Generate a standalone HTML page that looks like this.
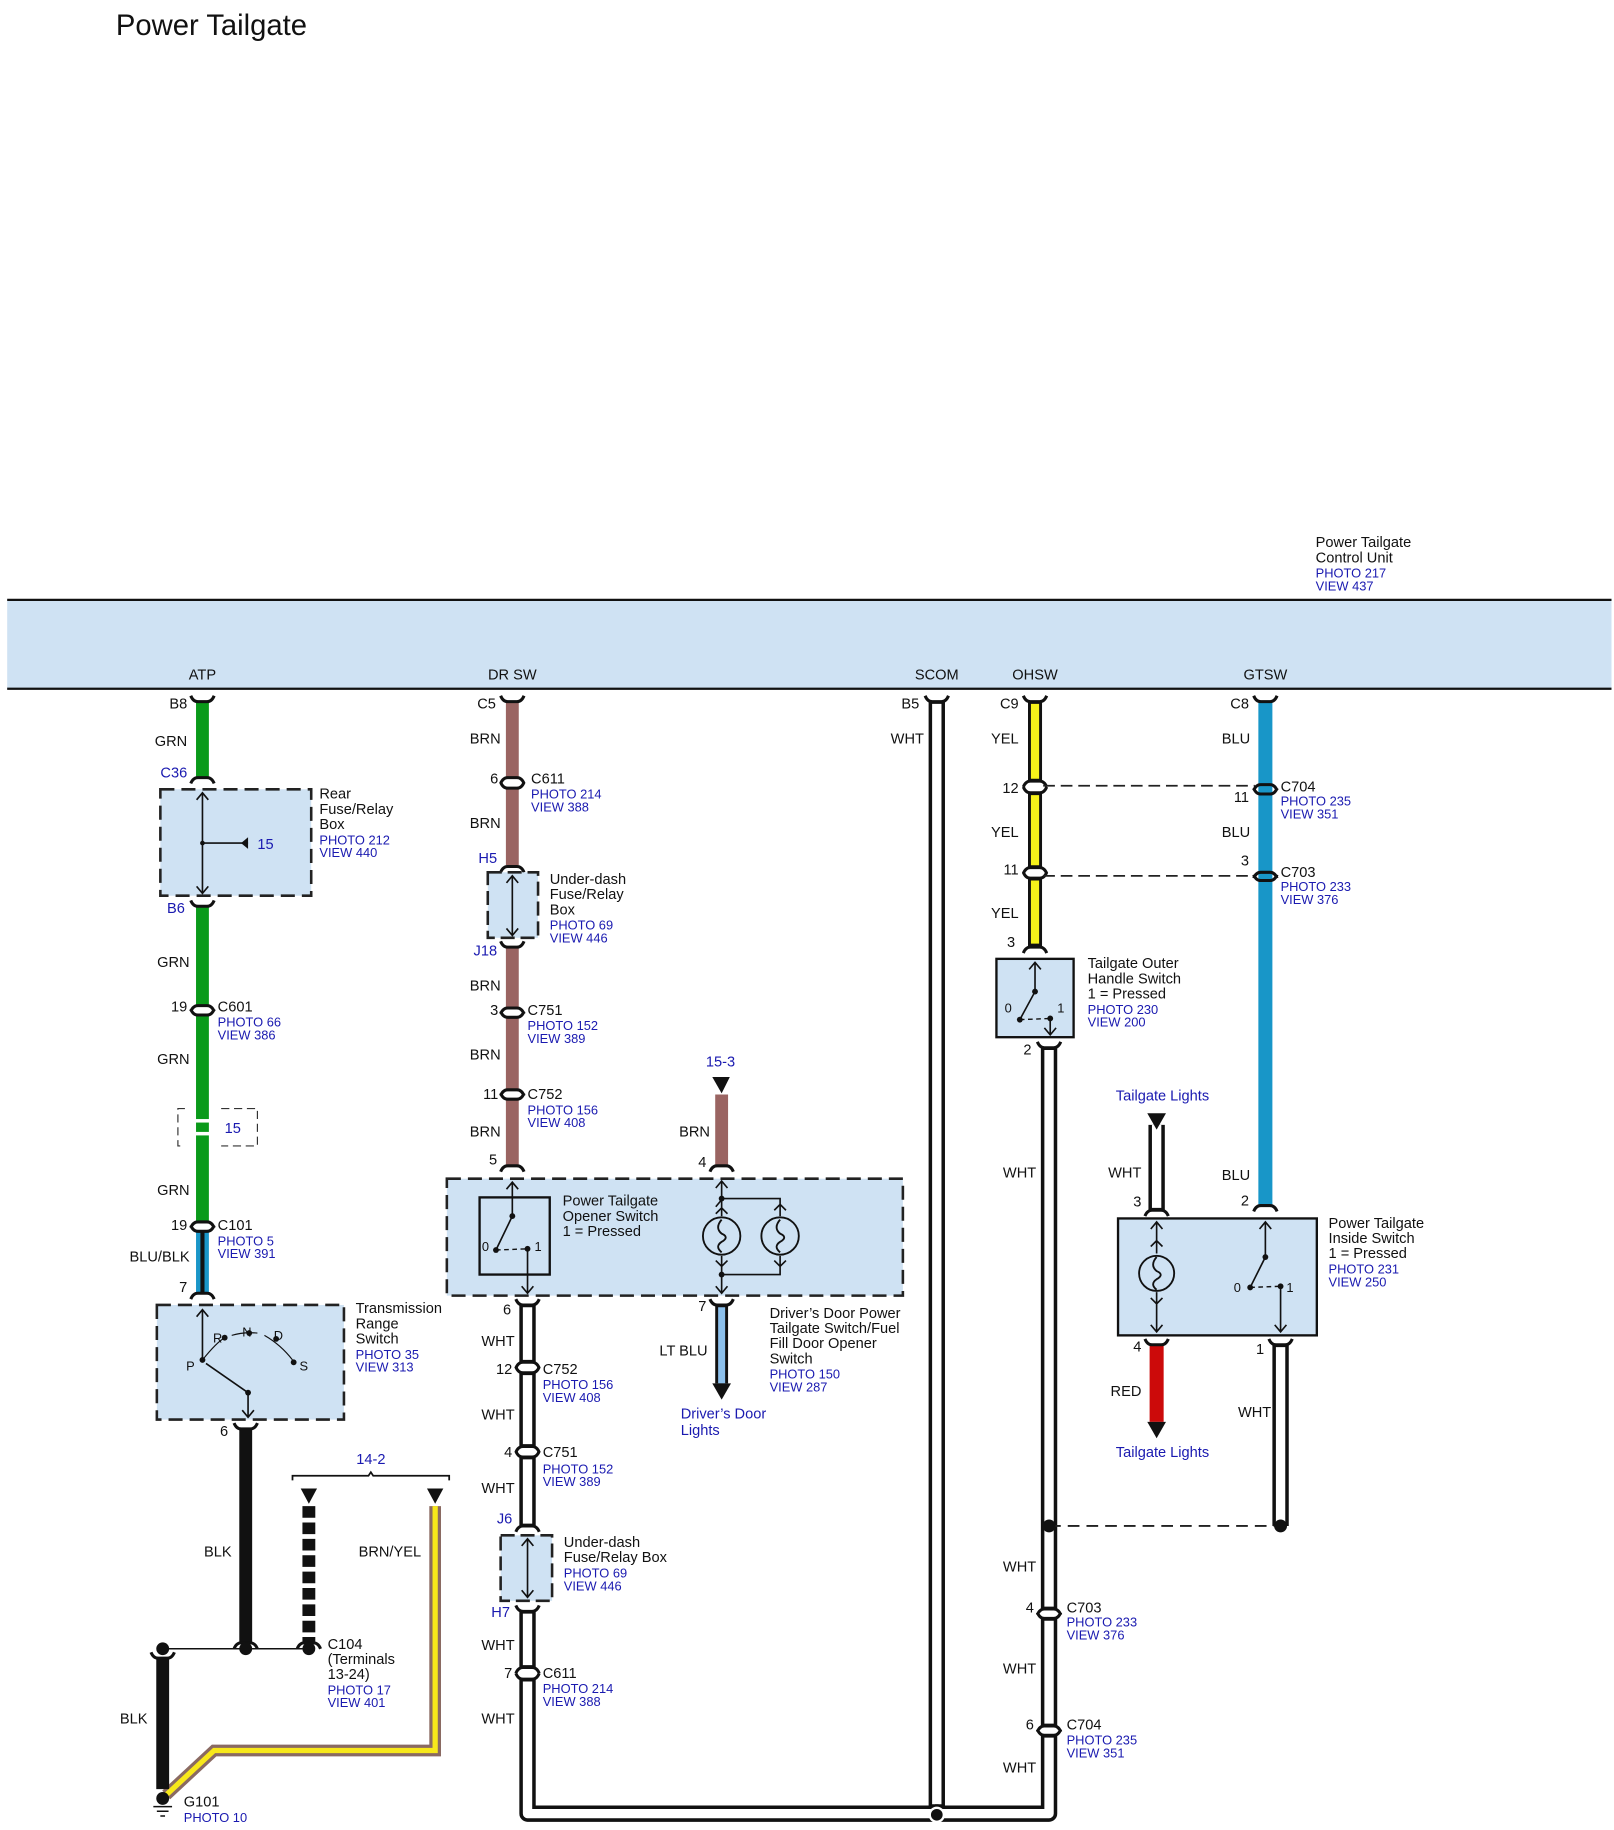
<!DOCTYPE html>
<html><head><meta charset="utf-8"><style>
html,body{margin:0;padding:0;background:#fff}
svg{display:block}
text{font-family:"Liberation Sans",sans-serif;font-size:12.5px;fill:#111}
.b{fill:#1a1ab0}
.s{font-size:11px}
</style></head><body>
<svg width="1614" height="1830" viewBox="0 0 1380 1565" xmlns="http://www.w3.org/2000/svg">
<defs>
<path id="cu" d="M-10,-5 Q-8,0 -4,0 L4,0 Q8,0 10,-5" fill="none" stroke="#111" stroke-width="2.6"/>
<path id="cd" d="M-10,5 Q-8,0 -4,0 L4,0 Q8,0 10,5" fill="none" stroke="#111" stroke-width="2.6"/>
</defs>
<text x="99" y="30" style="font-size:25px">Power Tailgate</text>

<!-- control unit band -->
<rect x="6" y="513" width="1372" height="76" fill="#cfe2f3"/>
<line x1="6" y1="513" x2="1378" y2="513" stroke="#111" stroke-width="2"/>
<line x1="6" y1="589" x2="1378" y2="589" stroke="#111" stroke-width="2"/>
<text x="1125" y="468">Power Tailgate</text><text x="1125" y="481">Control Unit</text>
<text x="1125" y="494" class="b s">PHOTO 217</text><text x="1125" y="505" class="b s">VIEW 437</text>
<g class="s" text-anchor="middle" style="font-size:11px">
<text x="173" y="581">ATP</text><text x="438" y="581">DR SW</text><text x="801" y="581">SCOM</text><text x="885" y="581">OHSW</text><text x="1082" y="581">GTSW</text></g>

<!-- ================= ATP column ================= -->
<g stroke="#0a9a1a" stroke-width="11">
<line x1="173" y1="600" x2="173" y2="665"/><line x1="173" y1="775" x2="173" y2="860"/><line x1="173" y1="868" x2="173" y2="1045"/>
</g>
<line x1="173" y1="957" x2="173" y2="960" stroke="#fff" stroke-width="12"/>
<line x1="173" y1="968" x2="173" y2="971" stroke="#fff" stroke-width="12"/>
<path d="M158,948 H152 V980 H158 M189,948 H220 V980 H189" fill="none" stroke="#333" stroke-width="1" stroke-dasharray="7,4"/>
<text x="192" y="969" class="b">15</text>
<line x1="173" y1="1053" x2="173" y2="1106" stroke="#1a96c8" stroke-width="11"/>
<line x1="173" y1="1053" x2="173" y2="1106" stroke="#111" stroke-width="3.5"/>
<use href="#cu" x="173" y="600"/><use href="#cd" x="173" y="665"/><use href="#cu" x="173" y="775"/>
<use href="#cd" x="173" y="860"/><use href="#cu" x="173" y="868"/><use href="#cd" x="173" y="1045"/><use href="#cu" x="173" y="1053"/><use href="#cd" x="173" y="1106"/>
<text x="160" y="606" text-anchor="end">B8</text><text x="160" y="638" text-anchor="end">GRN</text>
<text x="160" y="665" text-anchor="end" class="b">C36</text>
<rect x="137" y="675" width="129" height="91" fill="#cfe2f3" stroke="#222" stroke-width="2.2" stroke-dasharray="12,6"/>
<line x1="173" y1="678" x2="173" y2="764" stroke="#111" stroke-width="1.4"/>
<path d="M168,684 L173,678 L178,684 M168,758 L173,764 L178,758" fill="none" stroke="#111" stroke-width="1.4"/>
<line x1="173" y1="721" x2="212" y2="721" stroke="#111" stroke-width="1.4"/><circle cx="173" cy="721" r="2" fill="#111"/>
<path d="M212,716 L212,726 L206,721Z" fill="#111"/>
<text x="220" y="726" class="b">15</text>
<text x="273" y="683">Rear</text><text x="273" y="696">Fuse/Relay</text><text x="273" y="709">Box</text>
<text x="273" y="722" class="b s">PHOTO 212</text><text x="273" y="733" class="b s">VIEW 440</text>
<text x="158" y="781" text-anchor="end" class="b">B6</text>
<text x="162" y="827" text-anchor="end">GRN</text>
<text x="160" y="865" text-anchor="end">19</text><text x="186" y="865">C601</text>
<text x="186" y="878" class="b s">PHOTO 66</text><text x="186" y="889" class="b s">VIEW 386</text>
<text x="162" y="910" text-anchor="end">GRN</text>
<text x="162" y="1022" text-anchor="end">GRN</text>
<text x="160" y="1052" text-anchor="end">19</text><text x="186" y="1052">C101</text>
<text x="186" y="1065" class="b s">PHOTO 5</text><text x="186" y="1076" class="b s">VIEW 391</text>
<text x="162" y="1079" text-anchor="end">BLU/BLK</text>
<text x="160" y="1105" text-anchor="end">7</text>
<!-- transmission range switch -->
<rect x="134" y="1116" width="160" height="98" fill="#cfe2f3" stroke="#222" stroke-width="2.2" stroke-dasharray="12,6"/>
<path d="M173,1120 V1163 M168,1126 L173,1120 L178,1126" fill="none" stroke="#111" stroke-width="1.4"/>
<path d="M173,1163 Q185,1148 192,1144 M198,1142 Q208,1139 220,1140 M226,1142 Q240,1150 250,1163" fill="none" stroke="#111" stroke-width="1"/>
<g fill="#111"><circle cx="173" cy="1163" r="2.5"/><circle cx="192" cy="1144" r="2.5"/><circle cx="213" cy="1140" r="2.5"/><circle cx="236" cy="1145" r="2.5"/><circle cx="251" cy="1165" r="2.5"/><circle cx="212" cy="1191" r="2.5"/></g>
<path d="M176,1166 L212,1191 V1212 M207,1206 L212,1212 L217,1206" fill="none" stroke="#111" stroke-width="1.4"/>
<text x="182" y="1148" class="s">R</text><text x="207" y="1143" class="s">N</text><text x="234" y="1146" class="s">D</text><text x="159" y="1172" class="s">P</text><text x="256" y="1172" class="s">S</text>
<text x="304" y="1123">Transmission</text><text x="304" y="1136">Range</text><text x="304" y="1149">Switch</text>
<text x="304" y="1162" class="b s">PHOTO 35</text><text x="304" y="1173" class="b s">VIEW 313</text>
<text x="195" y="1228" text-anchor="end">6</text>
<line x1="210" y1="1222" x2="210" y2="1405" stroke="#111" stroke-width="11"/>
<use href="#cu" x="210" y="1222"/><use href="#cd" x="210" y="1405"/>
<text x="198" y="1331" text-anchor="end">BLK</text>
<!-- 14-2 bracket -->
<path d="M250,1266 V1262 H315 L317,1259 L319,1262 H384 V1266" fill="none" stroke="#111" stroke-width="1.5"/>
<text x="317" y="1252" text-anchor="middle" class="b">14-2</text>
<path d="M257,1273 L271,1273 L264,1286Z M365,1273 L379,1273 L372,1286Z" fill="#111"/>
<line x1="264" y1="1288" x2="264" y2="1404" stroke="#111" stroke-width="11" stroke-dasharray="10,4"/>
<use href="#cd" x="264" y="1405"/>
<path d="M372,1288 V1497 H183 L142,1535" fill="none" stroke="#8a6a62" stroke-width="10"/>
<path d="M372,1288 V1497 H183 L142,1535" fill="none" stroke="#f8e81a" stroke-width="4.5"/>
<text x="360" y="1331" text-anchor="end">BRN/YEL</text>
<line x1="139" y1="1410" x2="264" y2="1410" stroke="#111" stroke-width="1.3"/>
<g fill="#111"><circle cx="139" cy="1410" r="5.5"/><circle cx="210" cy="1410" r="5.5"/><circle cx="264" cy="1410" r="5.5"/></g>
<line x1="139" y1="1418" x2="139" y2="1530" stroke="#111" stroke-width="11"/>
<use href="#cu" x="139" y="1418"/>
<text x="126" y="1474" text-anchor="end">BLK</text>
<circle cx="139" cy="1538" r="5.5" fill="#111"/>
<path d="M131,1545 H147 M134,1549 H144 M137,1553 H141" stroke="#111" stroke-width="1.3"/>
<text x="280" y="1410">C104</text><text x="280" y="1423">(Terminals</text><text x="280" y="1436">13-24)</text>
<text x="280" y="1449" class="b s">PHOTO 17</text><text x="280" y="1460" class="b s">VIEW 401</text>
<text x="157" y="1545">G101</text><text x="157" y="1558" class="b s">PHOTO 10</text>

<!-- ================= DR SW column ================= -->
<g stroke="#9a6462" stroke-width="11">
<line x1="438" y1="600" x2="438" y2="665"/><line x1="438" y1="674" x2="438" y2="740"/><line x1="438" y1="810" x2="438" y2="862"/><line x1="438" y1="870" x2="438" y2="932"/><line x1="438" y1="940" x2="438" y2="996"/>
</g>
<use href="#cu" x="438" y="600"/><use href="#cd" x="438" y="665"/><use href="#cu" x="438" y="674"/><use href="#cd" x="438" y="741"/>
<use href="#cu" x="438" y="810"/><use href="#cd" x="438" y="862"/><use href="#cu" x="438" y="870"/><use href="#cd" x="438" y="932"/><use href="#cu" x="438" y="940"/><use href="#cd" x="438" y="997"/>
<text x="424" y="606" text-anchor="end">C5</text><text x="428" y="636" text-anchor="end">BRN</text>
<text x="426" y="670" text-anchor="end">6</text><text x="454" y="670">C611</text>
<text x="454" y="683" class="b s">PHOTO 214</text><text x="454" y="694" class="b s">VIEW 388</text>
<text x="428" y="708" text-anchor="end">BRN</text>
<text x="425" y="738" text-anchor="end" class="b">H5</text>
<rect x="417" y="746" width="43" height="56" fill="#cfe2f3" stroke="#222" stroke-width="2.2" stroke-dasharray="12,5"/>
<path d="M438,749 V800 M433,755 L438,749 L443,755 M433,794 L438,800 L443,794" fill="none" stroke="#111" stroke-width="1.4"/>
<text x="470" y="756">Under-dash</text><text x="470" y="769">Fuse/Relay</text><text x="470" y="782">Box</text>
<text x="470" y="795" class="b s">PHOTO 69</text><text x="470" y="806" class="b s">VIEW 446</text>
<text x="425" y="817" text-anchor="end" class="b">J18</text>
<text x="428" y="847" text-anchor="end">BRN</text>
<text x="426" y="868" text-anchor="end">3</text><text x="451" y="868">C751</text>
<text x="451" y="881" class="b s">PHOTO 152</text><text x="451" y="892" class="b s">VIEW 389</text>
<text x="428" y="906" text-anchor="end">BRN</text>
<text x="426" y="940" text-anchor="end">11</text><text x="451" y="940">C752</text>
<text x="451" y="953" class="b s">PHOTO 156</text><text x="451" y="964" class="b s">VIEW 408</text>
<text x="428" y="972" text-anchor="end">BRN</text>
<text x="425" y="996" text-anchor="end">5</text>
<!-- 15-3 feed -->
<text x="616" y="912" text-anchor="middle" class="b">15-3</text>
<path d="M609,921 L624,921 L617,935Z" fill="#111"/>
<line x1="617" y1="936" x2="617" y2="996" stroke="#9a6462" stroke-width="11"/>
<use href="#cd" x="617" y="997"/>
<text x="607" y="972" text-anchor="end">BRN</text><text x="604" y="998" text-anchor="end">4</text>
<!-- big dashed box -->
<rect x="382" y="1008" width="390" height="100" fill="#cfe2f3" stroke="#222" stroke-width="2.2" stroke-dasharray="12,6"/>
<rect x="410" y="1024" width="60" height="66" fill="none" stroke="#111" stroke-width="2"/>
<path d="M438,1011 V1040 L424,1069 M433,1017 L438,1011 L443,1017" fill="none" stroke="#111" stroke-width="1.4"/>
<path d="M424,1069 L451,1068" fill="none" stroke="#111" stroke-width="1.2" stroke-dasharray="4,3"/>
<path d="M451,1068 V1106 M446,1100 L451,1106 L456,1100" fill="none" stroke="#111" stroke-width="1.4"/>
<g fill="#111"><circle cx="438" cy="1040" r="2.5"/><circle cx="424" cy="1069" r="2.5"/><circle cx="451" cy="1068" r="2.5"/></g>
<text x="412" y="1070" class="s">0</text><text x="457" y="1070" class="s">1</text>
<text x="481" y="1031">Power Tailgate</text><text x="481" y="1044">Opener Switch</text><text x="481" y="1057">1 = Pressed</text>
<!-- lamps -->
<path d="M617,1010 V1040 M612,1016 L617,1010 L622,1016 M617,1025 H667 V1040 M612,1032 L617,1026 M662,1035 L667,1030 L672,1035 M612,1038 L617,1033 L622,1038" fill="none" stroke="#111" stroke-width="1.4"/>
<path d="M617,1074 V1106 M612,1100 L617,1106 L622,1100 M617,1090 H667 V1074 M612,1078 L617,1083 L622,1078 M662,1078 L667,1083 L672,1078" fill="none" stroke="#111" stroke-width="1.4"/>
<circle cx="617" cy="1090" r="2.5" fill="#111"/><circle cx="617" cy="1025" r="2.5" fill="#111"/>
<g fill="none" stroke="#111" stroke-width="1.6">
<circle cx="617" cy="1057" r="16"/><circle cx="667" cy="1057" r="16"/>
<path d="M617,1043 Q611,1050 617,1055 Q624,1058 617,1062 Q611,1066 617,1071"/>
<path d="M667,1043 Q661,1050 667,1055 Q674,1058 667,1062 Q661,1066 667,1071"/>
</g>
<!-- below box -->
<text x="437" y="1124" text-anchor="end">6</text>
<text x="604" y="1121" text-anchor="end">7</text>
<line x1="617" y1="1116" x2="617" y2="1183" stroke="#111" stroke-width="11"/>
<line x1="617" y1="1118" x2="617" y2="1183" stroke="#8cc0ec" stroke-width="6"/>
<use href="#cu" x="617" y="1116"/>
<path d="M609,1183 L625,1183 L617,1197Z" fill="#111"/>
<text x="605" y="1159" text-anchor="end">LT BLU</text>
<text x="582" y="1213" class="b">Driver’s Door</text><text x="582" y="1227" class="b">Lights</text>
<text x="658" y="1127">Driver’s Door Power</text><text x="658" y="1140">Tailgate Switch/Fuel</text><text x="658" y="1153">Fill Door Opener</text><text x="658" y="1166">Switch</text>
<text x="658" y="1179" class="b s">PHOTO 150</text><text x="658" y="1190" class="b s">VIEW 287</text>

<!-- white wires (outline) -->
<g fill="none" stroke="#111" stroke-width="14" stroke-linejoin="round">
<line x1="451" y1="1116" x2="451" y2="1165"/><line x1="451" y1="1174" x2="451" y2="1237"/><line x1="451" y1="1246" x2="451" y2="1305"/><line x1="451" y1="1378" x2="451" y2="1426"/>
<path d="M451,1436 V1551 H897 V1484"/>
<line x1="801" y1="600" x2="801" y2="1551"/>
<line x1="897" y1="896" x2="897" y2="1376"/><line x1="897" y1="1384" x2="897" y2="1476"/>
<line x1="989" y1="962" x2="989" y2="1035"/>
<line x1="1095" y1="1150" x2="1095" y2="1305"/>
</g>
<g fill="none" stroke="#fff" stroke-width="8" stroke-linejoin="round">
<line x1="451" y1="1118" x2="451" y2="1163"/><line x1="451" y1="1176" x2="451" y2="1235"/><line x1="451" y1="1248" x2="451" y2="1303"/><line x1="451" y1="1380" x2="451" y2="1424"/>
<path d="M451,1438 V1551 H897 V1486"/>
<line x1="801" y1="602" x2="801" y2="1543"/>
<line x1="897" y1="898" x2="897" y2="1374"/><line x1="897" y1="1386" x2="897" y2="1474"/>
<line x1="989" y1="962" x2="989" y2="1033"/>
<line x1="1095" y1="1152" x2="1095" y2="1303"/>
</g>
<line x1="801" y1="1543" x2="801" y2="1556" stroke="#111" stroke-width="3"/>
<circle cx="801" cy="1552" r="6" fill="#111" stroke="#fff" stroke-width="2"/>
<g>
<use href="#cd" x="451" y="1165"/><use href="#cu" x="451" y="1174"/><use href="#cd" x="451" y="1237"/><use href="#cu" x="451" y="1246"/><use href="#cd" x="451" y="1305"/>
<use href="#cu" x="451" y="1378"/><use href="#cd" x="451" y="1426"/><use href="#cu" x="451" y="1436"/><use href="#cu" x="451" y="1116"/>
<use href="#cu" x="801" y="600"/>
<use href="#cu" x="897" y="896"/><use href="#cd" x="897" y="1376"/><use href="#cu" x="897" y="1384"/><use href="#cd" x="897" y="1476"/><use href="#cu" x="897" y="1484"/>
<use href="#cd" x="989" y="1035"/><use href="#cu" x="1095" y="1150"/>
</g>
<text x="440" y="1151" text-anchor="end">WHT</text>
<text x="438" y="1175" text-anchor="end">12</text><text x="464" y="1175">C752</text>
<text x="464" y="1188" class="b s">PHOTO 156</text><text x="464" y="1199" class="b s">VIEW 408</text>
<text x="440" y="1214" text-anchor="end">WHT</text>
<text x="438" y="1246" text-anchor="end">4</text><text x="464" y="1246">C751</text>
<text x="464" y="1260" class="b s">PHOTO 152</text><text x="464" y="1271" class="b s">VIEW 389</text>
<text x="440" y="1277" text-anchor="end">WHT</text>
<text x="438" y="1303" text-anchor="end" class="b">J6</text>
<rect x="428" y="1313" width="44" height="56" fill="#cfe2f3" stroke="#222" stroke-width="2.2" stroke-dasharray="12,5"/>
<path d="M451,1316 V1366 M446,1322 L451,1316 L456,1322 M446,1360 L451,1366 L456,1360" fill="none" stroke="#111" stroke-width="1.4"/>
<text x="482" y="1323">Under-dash</text><text x="482" y="1336">Fuse/Relay Box</text>
<text x="482" y="1349" class="b s">PHOTO 69</text><text x="482" y="1360" class="b s">VIEW 446</text>
<text x="436" y="1383" text-anchor="end" class="b">H7</text>
<text x="440" y="1411" text-anchor="end">WHT</text>
<text x="438" y="1435" text-anchor="end">7</text><text x="464" y="1435">C611</text>
<text x="464" y="1448" class="b s">PHOTO 214</text><text x="464" y="1459" class="b s">VIEW 388</text>
<text x="440" y="1474" text-anchor="end">WHT</text>
<text x="786" y="606" text-anchor="end">B5</text><text x="790" y="636" text-anchor="end">WHT</text>

<!-- ================= OHSW ================= -->
<g stroke="#111" stroke-width="12">
<line x1="885" y1="600" x2="885" y2="668"/><line x1="885" y1="678" x2="885" y2="742"/><line x1="885" y1="751" x2="885" y2="809"/>
</g>
<g stroke="#f6f21a" stroke-width="7">
<line x1="885" y1="602" x2="885" y2="666"/><line x1="885" y1="680" x2="885" y2="740"/><line x1="885" y1="753" x2="885" y2="807"/>
</g>
<use href="#cu" x="885" y="600"/><use href="#cd" x="885" y="668"/><use href="#cu" x="885" y="678"/><use href="#cd" x="885" y="742"/><use href="#cu" x="885" y="751"/><use href="#cd" x="885" y="810"/>
<text x="871" y="606" text-anchor="end">C9</text><text x="871" y="636" text-anchor="end">YEL</text>
<text x="871" y="678" text-anchor="end">12</text><text x="871" y="716" text-anchor="end">YEL</text>
<text x="871" y="748" text-anchor="end">11</text><text x="871" y="785" text-anchor="end">YEL</text>
<text x="868" y="810" text-anchor="end">3</text>
<path d="M892,672 H1073 M892,749 H1073" stroke="#222" stroke-width="1.5" stroke-dasharray="10,5"/>
<rect x="852" y="820" width="66" height="67" fill="#cfe2f3" stroke="#111" stroke-width="2"/>
<path d="M885,823 V848 L872,872 M880,829 L885,823 L890,829" fill="none" stroke="#111" stroke-width="1.4"/>
<path d="M872,872 L898,871" stroke="#111" stroke-width="1.2" stroke-dasharray="4,3"/>
<path d="M898,871 V885 M893,879 L898,885 L903,879" fill="none" stroke="#111" stroke-width="1.4"/>
<g fill="#111"><circle cx="885" cy="848" r="2.5"/><circle cx="872" cy="872" r="2.5"/><circle cx="898" cy="871" r="2.5"/></g>
<text x="859" y="866" class="s">0</text><text x="904" y="866" class="s">1</text>
<text x="930" y="828">Tailgate Outer</text><text x="930" y="841">Handle Switch</text><text x="930" y="854">1 = Pressed</text>
<text x="930" y="867" class="b s">PHOTO 230</text><text x="930" y="878" class="b s">VIEW 200</text>
<text x="882" y="902" text-anchor="end">2</text>
<text x="886" y="1007" text-anchor="end">WHT</text>
<path d="M897,1305 H1095" stroke="#222" stroke-width="1.6" stroke-dasharray="10,6"/>
<circle cx="897" cy="1305" r="5.5" fill="#111"/><circle cx="1095" cy="1305" r="5.5" fill="#111"/>
<text x="886" y="1344" text-anchor="end">WHT</text>
<text x="884" y="1379" text-anchor="end">4</text><text x="912" y="1379">C703</text>
<text x="912" y="1391" class="b s">PHOTO 233</text><text x="912" y="1402" class="b s">VIEW 376</text>
<text x="886" y="1431" text-anchor="end">WHT</text>
<text x="884" y="1479" text-anchor="end">6</text><text x="912" y="1479">C704</text>
<text x="912" y="1492" class="b s">PHOTO 235</text><text x="912" y="1503" class="b s">VIEW 351</text>
<text x="886" y="1516" text-anchor="end">WHT</text>

<!-- ================= GTSW ================= -->
<line x1="1082" y1="600" x2="1082" y2="1030" stroke="#1896c8" stroke-width="12"/>
<use href="#cu" x="1082" y="600"/><use href="#cd" x="1082" y="671"/><use href="#cu" x="1082" y="679"/><use href="#cd" x="1082" y="746"/><use href="#cu" x="1082" y="753"/><use href="#cd" x="1082" y="1031"/>
<text x="1068" y="606" text-anchor="end">C8</text><text x="1069" y="636" text-anchor="end">BLU</text>
<text x="1095" y="677">C704</text><text x="1095" y="689" class="b s">PHOTO 235</text><text x="1095" y="700" class="b s">VIEW 351</text>
<text x="1068" y="686" text-anchor="end">11</text><text x="1069" y="716" text-anchor="end">BLU</text>
<text x="1068" y="740" text-anchor="end">3</text>
<text x="1095" y="750">C703</text><text x="1095" y="762" class="b s">PHOTO 233</text><text x="1095" y="773" class="b s">VIEW 376</text>
<text x="1069" y="1009" text-anchor="end">BLU</text><text x="1068" y="1031" text-anchor="end">2</text>
<!-- tailgate lights in -->
<text x="994" y="941" text-anchor="middle" class="b">Tailgate Lights</text>
<path d="M981,952 L997,952 L989,966Z" fill="#111"/>
<text x="976" y="1007" text-anchor="end">WHT</text><text x="976" y="1032" text-anchor="end">3</text>
<!-- inside switch -->
<rect x="956" y="1042" width="170" height="100" fill="#cfe2f3" stroke="#111" stroke-width="2"/>
<path d="M989,1045 V1072 M984,1051 L989,1045 L994,1051 M984,1066 L989,1061 L994,1066" fill="none" stroke="#111" stroke-width="1.4"/>
<circle cx="989" cy="1089" r="15" fill="none" stroke="#111" stroke-width="1.6"/>
<path d="M989,1075 Q983,1082 989,1087 Q996,1090 989,1094 Q983,1098 989,1103" fill="none" stroke="#111" stroke-width="1.6"/>
<path d="M989,1105 V1139 M984,1133 L989,1139 L994,1133 M984,1110 L989,1115 L994,1110" fill="none" stroke="#111" stroke-width="1.4"/>
<path d="M1082,1045 V1075 L1069,1101 M1077,1051 L1082,1045 L1087,1051" fill="none" stroke="#111" stroke-width="1.4"/>
<path d="M1069,1101 L1095,1100" stroke="#111" stroke-width="1.2" stroke-dasharray="4,3"/>
<path d="M1095,1100 V1139 M1090,1133 L1095,1139 L1100,1133" fill="none" stroke="#111" stroke-width="1.4"/>
<g fill="#111"><circle cx="1082" cy="1075" r="2.5"/><circle cx="1069" cy="1101" r="2.5"/><circle cx="1095" cy="1100" r="2.5"/></g>
<text x="1055" y="1105" class="s">0</text><text x="1100" y="1105" class="s">1</text>
<text x="1136" y="1050">Power Tailgate</text><text x="1136" y="1063">Inside Switch</text><text x="1136" y="1076">1 = Pressed</text>
<text x="1136" y="1089" class="b s">PHOTO 231</text><text x="1136" y="1100" class="b s">VIEW 250</text>
<text x="976" y="1156" text-anchor="end">4</text>
<line x1="989" y1="1150" x2="989" y2="1216" stroke="#cc0a0a" stroke-width="12"/>
<use href="#cu" x="989" y="1150"/>
<path d="M981,1216 L997,1216 L989,1230Z" fill="#111"/>
<text x="976" y="1194" text-anchor="end">RED</text>
<text x="994" y="1246" text-anchor="middle" class="b">Tailgate Lights</text>
<text x="1081" y="1158" text-anchor="end">1</text>
<text x="1087" y="1212" text-anchor="end">WHT</text>
</svg>
</body></html>
